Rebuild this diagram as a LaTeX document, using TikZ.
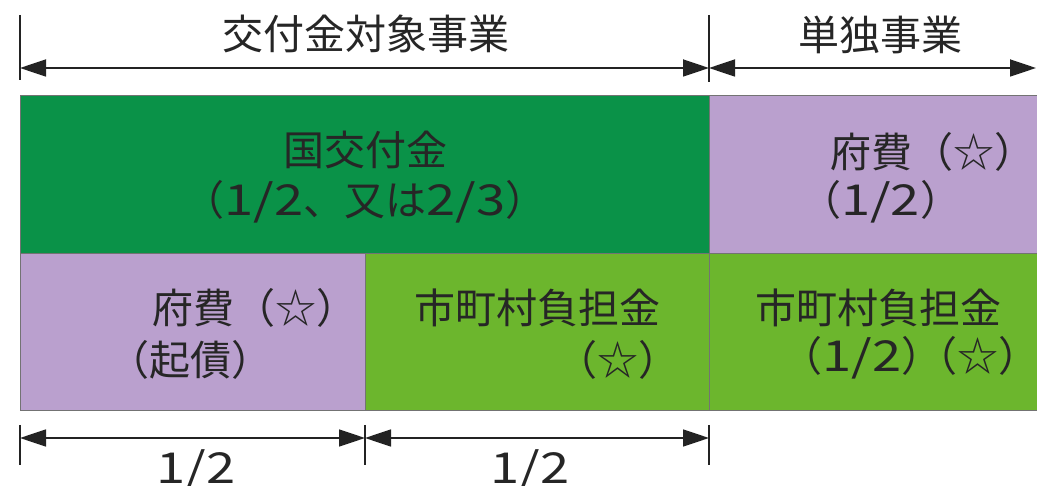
\documentclass[tikz,border=0pt]{standalone}
\usepackage{fontspec}
\usepackage{graphicx}
\newfontfamily\jp{Noto Sans CJK JP}
\newcommand{\hw}[1]{\scalebox{1.28}[1.04]{#1}}
\usetikzlibrary{arrows.meta}
\definecolor{dkgreen}{RGB}{10,146,72}
\definecolor{ltgreen}{RGB}{108,182,45}
\definecolor{lilac}{RGB}{186,160,206}
\definecolor{lineg}{RGB}{35,35,35}
\begin{document}
\begin{tikzpicture}[x=1pt,y=-1pt,
  cell/.style={draw=black!55,line width=0.8pt,anchor=north west,inner sep=0pt},
  lbl/.style={font=\jp\fontsize{41}{48}\selectfont,text=black!85,inner sep=0pt},
  dim/.style={draw=lineg,line width=1.8pt,{Triangle[length=26pt,width=17pt]}-{Triangle[length=26pt,width=17pt]}},
  tick/.style={draw=lineg,line width=1.5pt}]
\useasboundingbox (0,0) rectangle (1037,486);
% cells
\node[cell,fill=dkgreen,minimum width=689pt,minimum height=158pt] (kou) at (20,95) {};
\node[cell,fill=lilac,minimum width=330pt,minimum height=158pt] (tanfu) at (709,95) {};
\node[cell,fill=lilac,minimum width=345pt,minimum height=157pt] (fuhi) at (20,253) {};
\node[cell,fill=ltgreen,minimum width=344pt,minimum height=157pt] (shi) at (365,253) {};
\node[cell,fill=ltgreen,minimum width=330pt,minimum height=157pt] (tanshi) at (709,253) {};
% texts
\node[lbl] (t1) at (365,150) {国交付金};
\node[lbl] (t2) at (365,202) {（\hw{1/2}、又は\hw{2/3}）};
\node[lbl,anchor=east] (t3) at (1036,152) {府費（☆）};
\node[lbl,anchor=west] (t4) at (800,202) {（\hw{1/2}）};
\node[lbl,anchor=west] (t5) at (152,308) {府費（☆）};
\node[lbl,anchor=west] (t6) at (108,360) {（起債）};
\node[lbl] (t7) at (537,308) {市町村負担金};
\node[lbl,anchor=east] (t8) at (680,360) {（☆）};
\node[lbl] (t9) at (878,308) {市町村負担金};
\node[lbl,anchor=east] (t10) at (1036,358) {（\hw{1/2}）\kern-0.62em（☆）\kern-0.1em};
% top dimension
\coordinate (a0) at (20,68);
\coordinate (a1) at (709,68);
\coordinate (a2) at (1036,68);
\draw[tick] (20,15) -- (20,80);
\draw[tick] (709,15) -- (709,82);
\draw[dim] (a0) -- (a1);
\draw[dim] (a1) -- (a2);
\node[lbl] (h1) at (366,34) {交付金対象事業};
\node[lbl] (h2) at (880,35) {単独事業};
% bottom dimension
\coordinate (b0) at (20,438);
\coordinate (b1) at (365,438);
\coordinate (b2) at (709,438);
\draw[tick] (20,425) -- (20,465);
\draw[tick] (365,425) -- (365,465);
\draw[tick] (709,425) -- (709,465);
\draw[dim] (b0) -- (b1);
\draw[dim] (b1) -- (b2);
\node[lbl] (f1) at (196,470) {\hw{1/2}};
\node[lbl] (f2) at (530,470) {\hw{1/2}};
\end{tikzpicture}
\end{document}
